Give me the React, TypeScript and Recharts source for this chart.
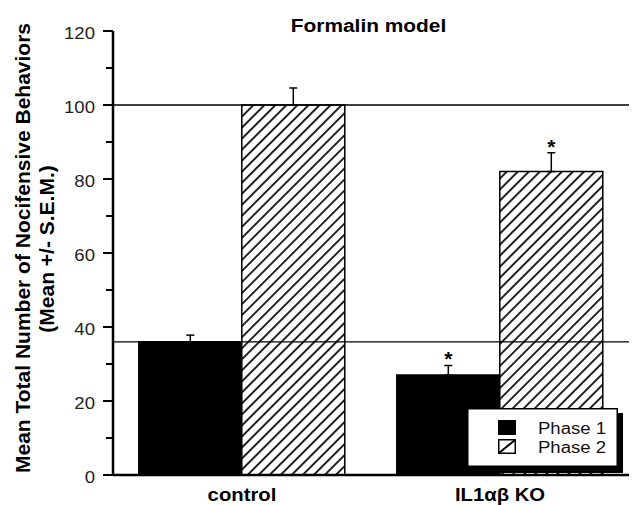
import React from 'react';
import {
  BarChart,
  Bar,
  XAxis,
  YAxis,
  ReferenceLine,
  ErrorBar,
  LabelList,
  Customized,
} from 'recharts';

const categories = ['control', 'IL1αβ KO'];
const phase1 = [36, 27];
const phase2 = [100, 82];
const phase1Err = [1.8, 2.6];
const phase2Err = [4.6, 5.1];
const phase1Sig = ['', '*'];
const phase2Sig = ['', '*'];
const majorTicks = [0, 20, 40, 60, 80, 100, 120];
const minorTicks = [10, 30, 50, 70, 90, 110];
const referenceValues = [100, 36];
const seriesNames = ['Phase 1', 'Phase 2'];
const seriesFills = ['#000', 'url(#hatch)'];
const chartTitle = 'Formalin model';
const yLabelLines = ['Mean Total Number of Nocifensive Behaviors', '(Mean +/- S.E.M.)'];

const data = categories.map((c, i) => ({
  name: c,
  p1: phase1[i],
  p2: phase2[i],
  p1Err: [0, phase1Err[i]],
  p2Err: [0, phase2Err[i]],
  p1Sig: phase1Sig[i],
  p2Sig: phase2Sig[i],
}));

const allTicks = [...majorTicks, ...minorTicks].sort((a, b) => a - b);

const FONT = '"Liberation Sans", Arial, Helvetica, sans-serif';
const STRETCH = 1.16;
const Y_TICK_SIZE = 10;
const Y_TICK_MARGIN = 8;

const YTick = (props: any) => {
  const { x, y, payload } = props;
  const v = payload.value;
  const axisX = x + Y_TICK_SIZE + Y_TICK_MARGIN;
  const isMajor = majorTicks.includes(v);
  return (
    <g>
      <line
        x1={isMajor ? axisX - 10 : axisX - 7}
        x2={axisX}
        y1={y}
        y2={y}
        stroke="#000"
        strokeWidth={2}
      />
      {isMajor && (
        <text
          transform={`translate(${x},${y + 7.5}) scale(${STRETCH},1)`}
          textAnchor="end"
          fontSize={16}
          fontFamily={FONT}
          fill="#222"
        >
          {v}
        </text>
      )}
    </g>
  );
};

const XTick = (props: any) => {
  const { x, y, payload } = props;
  return (
    <text
      transform={`translate(${x},${y + 25.5}) scale(${STRETCH},1)`}
      textAnchor="middle"
      fontSize={17.5}
      fontWeight="bold"
      fontFamily={FONT}
      fill="#000"
    >
      {payload.value}
    </text>
  );
};

const makeStar = (vals: number[], errs: number[]) => (props: any) => {
  const { value } = props;
  if (!value) return null;
  const index = props.index ?? 1;
  const vb = props.viewBox ?? props;
  const x = vb.x ?? props.x;
  const y = vb.y ?? props.y;
  const width = vb.width ?? props.width;
  const height = Math.abs(vb.height ?? props.height);
  const perUnit = height / vals[index];
  const errTop = y - errs[index] * perUnit;
  return (
    <text
      x={x + width / 2}
      y={errTop + 1}
      textAnchor="middle"
      fontSize={21}
      fontWeight="bold"
      fontFamily={FONT}
      fill="#000"
    >
      {value}
    </text>
  );
};

const LegendBox = () => (
  <svg width={157} height={66} style={{ display: 'block' }}>
    <rect x={5} y={5} width={151} height={60} fill="#000" />
    <rect x={0.75} y={0.75} width={149.5} height={57.5} fill="#fff" stroke="#000" strokeWidth={1.5} />
    {seriesNames.map((name, i) => {
      const hatched = seriesFills[i].startsWith('url');
      const top = 12 + i * 19;
      return (
        <g key={name}>
          {hatched ? (
            <g>
              <rect x={31.75} y={top + 0.75} width={16.5} height={13.5} fill="#fff" stroke="#000" strokeWidth={1.5} />
              <line x1={32} y1={top + 14} x2={48} y2={top + 1} stroke="#000" strokeWidth={2} />
            </g>
          ) : (
            <rect x={31} y={top} width={18} height={15} fill={seriesFills[i]} />
          )}
          <text
            transform={`translate(71,${top + 13.5}) scale(${STRETCH},1)`}
            fontSize={16}
            fontFamily={FONT}
            fill="#111"
          >
            {name}
          </text>
        </g>
      );
    })}
  </svg>
);

const Annotations = () => (
  <g>
    <text
      transform={`translate(368.5,32) scale(${STRETCH},1)`}
      textAnchor="middle"
      fontSize={18}
      fontWeight="bold"
      fontFamily={FONT}
      fill="#000"
    >
      {chartTitle}
    </text>
    <text
      transform="translate(30,248) rotate(-90)"
      textAnchor="middle"
      fontSize={21}
      fontWeight="bold"
      fontFamily={FONT}
      fill="#000"
    >
      {yLabelLines[0]}
    </text>
    <text
      transform="translate(54,249) rotate(-90)"
      textAnchor="middle"
      fontSize={21}
      fontWeight="bold"
      fontFamily={FONT}
      fill="#000"
    >
      {yLabelLines[1]}
    </text>
  </g>
);

export default function App() {
  return (
    <div style={{ position: 'absolute', left: 0, top: 0, width: 639, height: 505, background: '#fff' }}>
      <svg width={0} height={0} style={{ position: 'absolute' }}>
        <defs>
          <pattern
            id="hatch"
            patternUnits="userSpaceOnUse"
            width={7.8}
            height={7.8}
            patternTransform="rotate(45)"
          >
            <rect width={7.8} height={7.8} fill="#fff" />
            <line x1={3.9} y1={0} x2={3.9} y2={7.8} stroke="#000" strokeWidth={1.7} />
          </pattern>
        </defs>
      </svg>
      <BarChart
        width={639}
        height={505}
        data={data}
        margin={{ top: 31, right: 10, bottom: 0, left: 53 }}
        barCategoryGap="10%"
        barGap={0}
      >
        <XAxis
          dataKey="name"
          height={30}
          axisLine={{ stroke: '#000', strokeWidth: 2.5 }}
          tickLine={false}
          tickSize={0}
          tickMargin={0}
          interval={0}
          tick={<XTick />}
        />
        <YAxis
          type="number"
          domain={[0, 120]}
          ticks={allTicks}
          interval={0}
          width={60}
          axisLine={{ stroke: '#000', strokeWidth: 2.5 }}
          tickLine={false}
          tickSize={Y_TICK_SIZE}
          tickMargin={Y_TICK_MARGIN}
          tick={<YTick />}
        />
        <YAxis
          yAxisId="right"
          orientation="right"
          type="number"
          domain={[0, 120]}
          width={0}
          tick={false}
          tickLine={false}
          axisLine={{ stroke: '#000', strokeWidth: 2.5 }}
        />
        <Bar
          dataKey="p1"
          name={seriesNames[0]}
          fill={seriesFills[0]}
          stroke="#000"
          strokeWidth={1.5}
          isAnimationActive={false}
        >
          <ErrorBar dataKey="p1Err" width={4} stroke="#000" strokeWidth={1.5} direction="y" />
          <LabelList dataKey="p1Sig" content={makeStar(phase1, phase1Err)} />
        </Bar>
        <Bar
          dataKey="p2"
          name={seriesNames[1]}
          fill={seriesFills[1]}
          stroke="#000"
          strokeWidth={1.5}
          isAnimationActive={false}
        >
          <ErrorBar dataKey="p2Err" width={4} stroke="#000" strokeWidth={1.5} direction="y" />
          <LabelList dataKey="p2Sig" content={makeStar(phase2, phase2Err)} />
        </Bar>
        {referenceValues.map((v) => (
          <ReferenceLine key={v} y={v} stroke="#000" strokeWidth={1.3} />
        ))}
        <Customized component={<Annotations />} />
      </BarChart>
      <div style={{ position: 'absolute', left: 467, top: 408, zIndex: 10, lineHeight: 0 }}>
        <LegendBox />
      </div>
    </div>
  );
}
